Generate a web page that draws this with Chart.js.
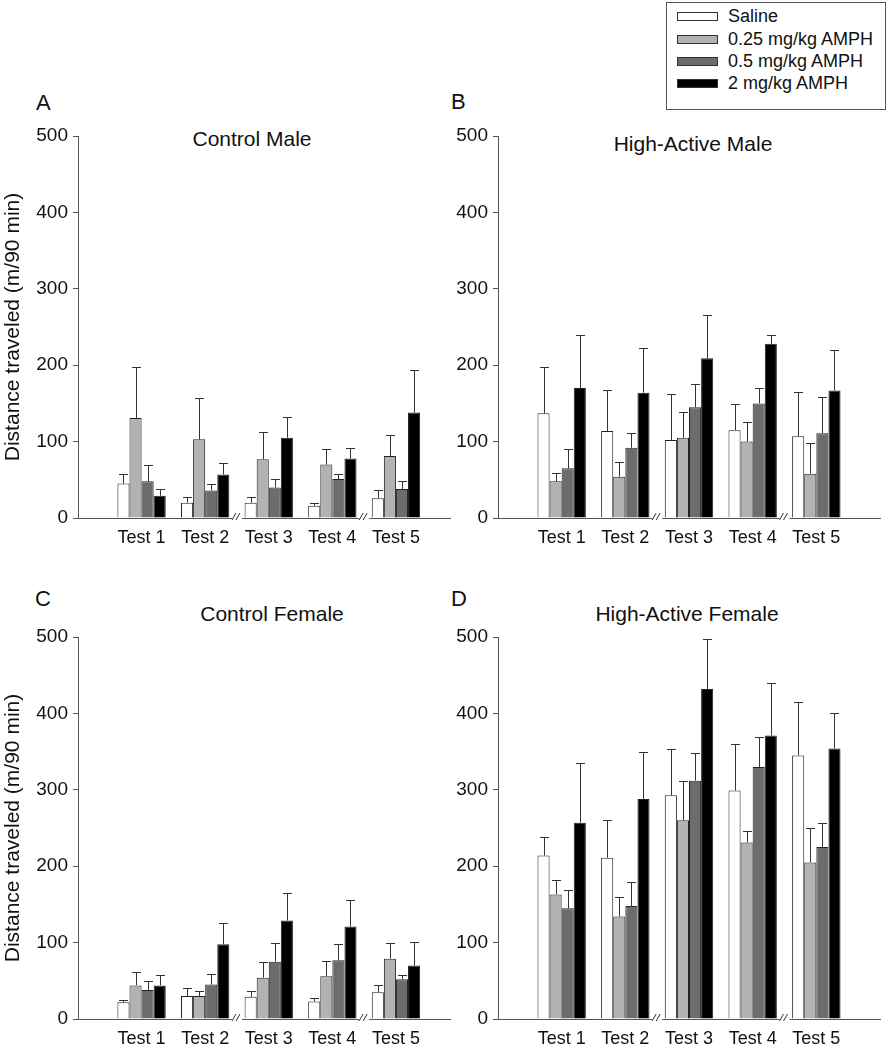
<!DOCTYPE html>
<html>
<head>
<meta charset="utf-8">
<script src="https://cdn.jsdelivr.net/npm/chart.js@4.4.1/dist/chart.umd.min.js"></script>
<style>
  html, body { margin: 0; padding: 0; background: #fff; overflow: hidden; }
  body { width: 891px; height: 1050px; position: relative; font-family: 'Liberation Sans', Arial, sans-serif; color: #111; }
  canvas { position: absolute; }
  .lbl { position: absolute; font-size: 22px; line-height: 1; }
  .ttl { position: absolute; font-size: 21px; line-height: 1; white-space: nowrap; transform: translate(-50%, -50%); }
  #legend { position: absolute; left: 666px; top: 2px; width: 220px; height: 108px; border: 1px solid #555; box-sizing: border-box; background: #fff; }
  .row { position: absolute; left: 10px; height: 22px; display: flex; align-items: center; font-size: 18px; white-space: nowrap; }
  .sw { width: 39px; height: 7px; border: 1px solid #333; margin-right: 10px; }
</style>
</head>
<body>
<div class="lbl" style="left:36px;top:92px">A</div>
<div class="lbl" style="left:451px;top:91px">B</div>
<div class="lbl" style="left:35px;top:588px">C</div>
<div class="lbl" style="left:451px;top:588px">D</div>
<div class="ttl" style="left:252px;top:138px">Control Male</div>
<div class="ttl" style="left:693px;top:143px">High-Active Male</div>
<div class="ttl" style="left:272px;top:613px">Control Female</div>
<div class="ttl" style="left:687px;top:613px">High-Active Female</div>
<div id="legend"></div>

<canvas id="cA" width="455" height="444" style="left:0px;top:116px"></canvas>
<canvas id="cB" width="436" height="444" style="left:455px;top:116px"></canvas>
<canvas id="cC" width="455" height="433" style="left:0px;top:617px"></canvas>
<canvas id="cD" width="436" height="433" style="left:455px;top:617px"></canvas>

<script>
// ---- Data ----
const tests = ['Test 1', 'Test 2', 'Test 3', 'Test 4', 'Test 5'];
const seriesNames = ['Saline', '0.25 mg/kg AMPH', '0.5 mg/kg AMPH', '2 mg/kg AMPH'];
const seriesColors = ['#ffffff', '#b2b2b2', '#6c6c6c', '#000000'];
const yTicks = [0, 100, 200, 300, 400, 500];
const breakPoints = [2.5, 4.5];

// A: Control Male
const ctrlMaleSaline = [45, 20, 20, 16, 26];
const ctrlMaleD025   = [131, 103, 77, 70, 81];
const ctrlMaleD05    = [48, 36, 40, 51, 38];
const ctrlMaleD2     = [29, 57, 105, 78, 138];
const ctrlMaleSalineErr = [13, 7, 8, 4, 11];
const ctrlMaleD025Err   = [66, 54, 35, 20, 27];
const ctrlMaleD05Err    = [21, 8, 11, 7, 11];
const ctrlMaleD2Err     = [9, 15, 27, 14, 56];

// B: High-Active Male
const haMaleSaline = [137, 114, 102, 115, 107];
const haMaleD025   = [48, 54, 105, 100, 58];
const haMaleD05    = [65, 92, 145, 150, 111];
const haMaleD2     = [170, 164, 209, 228, 167];
const haMaleSalineErr = [61, 54, 60, 34, 58];
const haMaleD025Err   = [11, 19, 34, 26, 40];
const haMaleD05Err    = [25, 19, 31, 20, 47];
const haMaleD2Err     = [69, 58, 57, 11, 53];

// C: Control Female
const ctrlFemSaline = [22, 30, 29, 23, 35];
const ctrlFemD025   = [44, 30, 54, 56, 79];
const ctrlFemD05    = [38, 45, 75, 77, 52];
const ctrlFemD2     = [44, 98, 129, 121, 70];
const ctrlFemSalineErr = [3, 11, 8, 4, 10];
const ctrlFemD025Err   = [17, 7, 20, 20, 21];
const ctrlFemD05Err    = [12, 14, 25, 21, 5];
const ctrlFemD2Err     = [14, 28, 36, 35, 31];

// D: High-Active Female
const haFemSaline = [214, 211, 293, 299, 345];
const haFemD025   = [163, 134, 260, 231, 205];
const haFemD05    = [145, 148, 312, 330, 225];
const haFemD2     = [257, 288, 432, 371, 354];
const haFemSalineErr = [24, 50, 60, 61, 70];
const haFemD025Err   = [19, 26, 51, 15, 45];
const haFemD05Err    = [24, 31, 36, 39, 32];
const haFemD2Err     = [78, 62, 65, 69, 47];

// ---- Legend (HTML) ----
const legendEl = document.getElementById('legend');
const legendRowTops = [12, 35, 57, 79];
seriesNames.forEach((n, i) => {
  const r = document.createElement('div');
  r.className = 'row';
  r.style.top = (legendRowTops[i] - 10) + 'px';
  const s = document.createElement('div');
  s.className = 'sw';
  s.style.background = seriesColors[i];
  r.appendChild(s);
  const t = document.createElement('span');
  t.textContent = n;
  r.appendChild(t);
  legendEl.appendChild(r);
});

Chart.defaults.font.family = "'Liberation Sans', Arial, sans-serif";
Chart.defaults.color = '#111';

const errorBarPlugin = {
  id: 'errorBars',
  afterDatasetsDraw(chart) {
    const ctx = chart.ctx;
    const yScale = chart.scales.y;
    ctx.save();
    ctx.strokeStyle = '#333';
    ctx.lineWidth = 1;
    chart.data.datasets.forEach((ds, di) => {
      const meta = chart.getDatasetMeta(di);
      meta.data.forEach((el, i) => {
        const mean = ds.data[i].y;
        const top = yScale.getPixelForValue(mean + ds.errors[i]);
        const x = Math.round(el.x) + 0.5;
        const yb = el.y;
        const yt = Math.round(top) + 0.5;
        ctx.beginPath();
        ctx.moveTo(x, yb);
        ctx.lineTo(x, yt);
        ctx.moveTo(x - 4.5, yt);
        ctx.lineTo(x + 4.5, yt);
        ctx.stroke();
      });
    });
    ctx.restore();
  }
};

const axisBreakPlugin = {
  id: 'axisBreak',
  afterDraw(chart) {
    const ctx = chart.ctx;
    const xs = chart.scales.x;
    const yb = chart.chartArea.bottom;
    ctx.save();
    breakPoints.forEach(v => {
      const px = xs.getPixelForValue(v);
      ctx.fillStyle = '#fff';
      ctx.fillRect(px - 5, yb - 2, 10, 4);
      ctx.strokeStyle = '#333';
      ctx.lineWidth = 1;
      ctx.beginPath();
      ctx.moveTo(px - 5, yb + 2);
      ctx.lineTo(px - 1, yb - 5);
      ctx.moveTo(px - 1, yb + 2);
      ctx.lineTo(px + 3, yb - 5);
      ctx.stroke();
    });
    ctx.restore();
  }
};

function makePanel(id, means, errs, opts) {
  const datasets = means.map((arr, si) => ({
    label: seriesNames[si],
    data: arr.map((v, i) => ({ x: i + 1, y: v })),
    errors: errs[si],
    backgroundColor: seriesColors[si],
    borderColor: '#222',
    borderWidth: 1,
    categoryPercentage: 0.76,
    barPercentage: 1.0
  }));
  new Chart(document.getElementById(id), {
    type: 'bar',
    data: { datasets },
    options: {
      responsive: false,
      animation: false,
      events: [],
      layout: { padding: { top: 20, right: opts.padRight, bottom: 0, left: 0 } },
      plugins: { legend: { display: false }, tooltip: { enabled: false } },
      scales: {
        x: {
          type: 'linear',
          offset: false,
          min: 0,
          max: opts.xMax,
          grid: { display: false, drawTicks: false, offset: false },
          border: { display: true, color: '#555', width: 1 },
          afterBuildTicks: (scale) => { scale.ticks = tests.map((t, i) => ({ value: i + 1 })); },
          afterFit: (scale) => { scale.height = opts.xHeight; },
          ticks: {
            autoSkip: false,
            maxRotation: 0,
            padding: 9,
            font: { size: 18 },
            color: '#111',
            callback: (v) => tests[Math.round(v) - 1]
          }
        },
        y: {
          min: 0,
          max: 500,
          afterBuildTicks: (scale) => { scale.ticks = yTicks.map(v => ({ value: v })); },
          afterFit: (scale) => { scale.width = opts.yWidth; },
          grid: { display: true, drawOnChartArea: false, drawTicks: true, tickLength: 5, color: '#555' },
          border: { display: true, color: '#555', width: 1 },
          ticks: { padding: 5, font: { size: 19 }, color: '#111' },
          title: {
            display: opts.yTitle,
            text: 'Distance traveled (m/90 min)',
            font: { size: 21 },
            color: '#111',
            padding: { top: 1, bottom: 0 }
          }
        }
      }
    },
    plugins: [errorBarPlugin, axisBreakPlugin]
  });
}

makePanel('cA',
  [ctrlMaleSaline, ctrlMaleD025, ctrlMaleD05, ctrlMaleD2],
  [ctrlMaleSalineErr, ctrlMaleD025Err, ctrlMaleD05Err, ctrlMaleD2Err],
  { xMax: 5.85, padRight: 5, xHeight: 42, yWidth: 78, yTitle: true });
makePanel('cB',
  [haMaleSaline, haMaleD025, haMaleD05, haMaleD2],
  [haMaleSalineErr, haMaleD025Err, haMaleD05Err, haMaleD2Err],
  { xMax: 6.0, padRight: 11, xHeight: 42, yWidth: 43, yTitle: false });
makePanel('cC',
  [ctrlFemSaline, ctrlFemD025, ctrlFemD05, ctrlFemD2],
  [ctrlFemSalineErr, ctrlFemD025Err, ctrlFemD05Err, ctrlFemD2Err],
  { xMax: 5.85, padRight: 5, xHeight: 31, yWidth: 78, yTitle: true });
makePanel('cD',
  [haFemSaline, haFemD025, haFemD05, haFemD2],
  [haFemSalineErr, haFemD025Err, haFemD05Err, haFemD2Err],
  { xMax: 6.0, padRight: 11, xHeight: 31, yWidth: 43, yTitle: false });
</script>
</body>
</html>
